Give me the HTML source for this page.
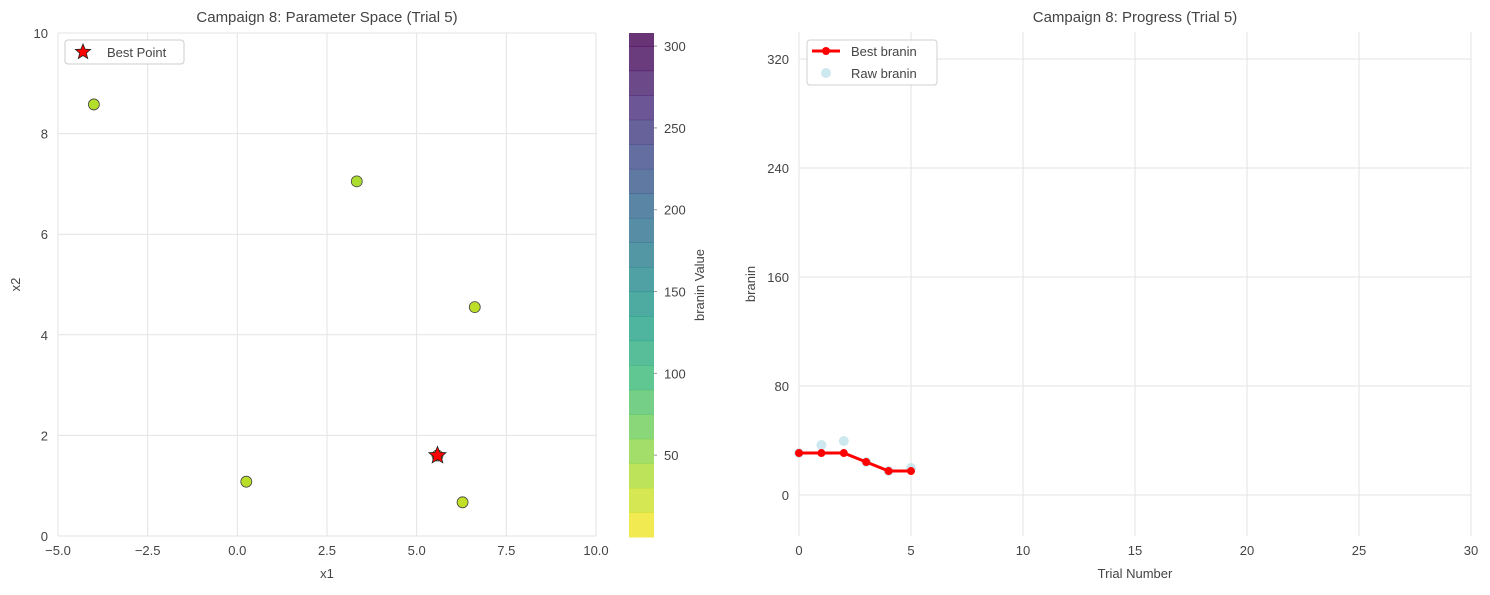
<!DOCTYPE html>
<html><head><meta charset="utf-8"><style>
body{margin:0;background:#fff;font-family:"Liberation Sans","DejaVu Sans",sans-serif}
svg text{font-family:"Liberation Sans","DejaVu Sans",sans-serif;fill:#444}
</style></head><body>
<svg id="c" width="1490" height="590" xmlns="http://www.w3.org/2000/svg"></svg>
<script>
// Left plot data
const pointsX1 = [-4.0, 3.33, 6.62, 0.25, 6.28, 5.58];
const pointsX2 = [8.58, 7.05, 4.55, 1.08, 0.67, 1.60];
const pointsVal = [35, 38, 30, 32, 28, 18];
const bestX1 = 5.58, bestX2 = 1.60;
const xTicks = [-5.0, -2.5, 0.0, 2.5, 5.0, 7.5, 10.0];
const xTickLabels = ["\u22125.0","\u22122.5","0.0","2.5","5.0","7.5","10.0"];
const yTicks = [0, 2, 4, 6, 8, 10];
const cbTicks = [50, 100, 150, 200, 250, 300];
// Right plot data
const trials = [0, 1, 2, 3, 4, 5];
const rawVals = [30.8, 36.7, 39.6, 24.2, 17.6, 19.8];
const bestVals = [30.8, 30.8, 30.8, 24.2, 17.6, 17.6];
const rxTicks = [0, 5, 10, 15, 20, 25, 30];
const ryTicks = [0, 80, 160, 240, 320];

const NS = "http://www.w3.org/2000/svg";
const svg = document.getElementById('c');
function el(tag, attrs, parent) {
  const e = document.createElementNS(NS, tag);
  for (const k in attrs) e.setAttribute(k, attrs[k]);
  (parent || svg).appendChild(e);
  return e;
}
function txt(s, attrs) { const t = el('text', attrs); t.textContent = s; return t; }

const viridis = ["#fde725","#b5de2b","#6ece58","#35b779","#1f9e89","#26828e","#31688e","#3e4989","#482878","#440154"];
function vcol(t) {
  t = Math.max(0, Math.min(1, t)) * (viridis.length - 1);
  const i = Math.min(viridis.length - 2, Math.floor(t)), f = t - i;
  const a = viridis[i], b = viridis[i + 1];
  const c = [1,3,5].map(j => Math.round(parseInt(a.substr(j,2),16)*(1-f) + parseInt(b.substr(j,2),16)*f));
  return `rgb(${c[0]},${c[1]},${c[2]})`;
}

// ---------- Left plot ----------
const L = {x0:58, x1:596, y0:536, y1:33};
const lx = v => L.x0 + (v - (-5)) / 15 * (L.x1 - L.x0);
const ly = v => L.y0 - v / 10 * (L.y0 - L.y1);
let t;
t = txt("Campaign 8: Parameter Space (Trial 5)", {x:(L.x0+L.x1)/2, y:22, 'text-anchor':'middle', 'font-size':15});
 
xTicks.forEach((v, i) => {
  const g = el('line', {x1:lx(v), x2:lx(v), y1:L.y1, y2:L.y0, stroke:'#e3e3e3', 'stroke-width':1});
   
  const l = txt(xTickLabels[i], {x:lx(v), y:555, 'text-anchor':'middle', 'font-size':13});
   
});
yTicks.forEach(v => {
  const g = el('line', {x1:L.x0, x2:L.x1, y1:ly(v), y2:ly(v), stroke:'#e3e3e3', 'stroke-width':1});
   
  const l = txt(String(v), {x:L.x0-10, y:ly(v)+5, 'text-anchor':'end', 'font-size':13});
   
});
t = txt("x1", {x:(L.x0+L.x1)/2, y:578, 'text-anchor':'middle', 'font-size':13});
 
t = txt("x2", {x:0, y:0, 'text-anchor':'middle', 'font-size':13, transform:`translate(20,${(L.y0+L.y1)/2}) rotate(-90)`});
 
pointsX1.forEach((x, i) => {
  const c = el('circle', {cx:lx(x), cy:ly(pointsX2[i]), r:5.5, fill:vcol(pointsVal[i]/308), stroke:'#444', 'stroke-width':0.8});
   
});
function star(cx, cy, R, r) {
  let p = [];
  for (let k = 0; k < 10; k++) { const a = -Math.PI/2 + k*Math.PI/5, rr = k%2 ? r : R; p.push((cx+rr*Math.cos(a)).toFixed(1)+','+(cy+rr*Math.sin(a)).toFixed(1)); }
  return p.join(' ');
}
const bs = el('polygon', {points:star(lx(bestX1), ly(bestX2), 9, 4), fill:'#ff0000', stroke:'#222', 'stroke-width':0.8});
 
// legend
const lg = el('rect', {x:65, y:40, width:119, height:24, rx:3, fill:'#fff', stroke:'#ccc'});
 
el('polygon', {points:star(83, 52, 8, 3.5), fill:'#ff0000', stroke:'#222', 'stroke-width':0.8});
t = txt("Best Point", {x:107, y:57, 'font-size':13});
 

// colorbar
const CB = {x:629, w:25, y0:537, y1:33, max:308};
const cy = v => CB.y0 - v / CB.max * (CB.y0 - CB.y1);
for (let v = 0; v < 300; v += 15) {
  const r = el('rect', {x:CB.x, y:cy(Math.min(v+15, CB.max)), width:CB.w, height:cy(v)-cy(Math.min(v+15,CB.max))+0.5, fill:vcol((v+7.5)/300), opacity:0.8});
   
}
el('rect', {x:CB.x, y:CB.y1, width:CB.w, height:cy(300)-CB.y1+0.5, fill:vcol(1), opacity:0.8});
cbTicks.forEach(v => {
  el('line', {x1:CB.x+CB.w, x2:CB.x+CB.w+3, y1:cy(v), y2:cy(v), stroke:'#999'});
  const l = txt(String(v), {x:CB.x+CB.w+10, y:cy(v)+5, 'font-size':13});
   
});
t = txt("branin Value", {x:0, y:0, 'text-anchor':'middle', 'font-size':13, transform:`translate(704,285) rotate(-90)`});
 

// ---------- Right plot ----------
const R = {x0:799, x1:1471, y0:536, y1:32};
const rx = v => R.x0 + v / 30 * (R.x1 - R.x0);
const ry = v => 495 - v * 1.3625;
t = txt("Campaign 8: Progress (Trial 5)", {x:(R.x0+R.x1)/2, y:22, 'text-anchor':'middle', 'font-size':15});
 
rxTicks.forEach(v => {
  const g = el('line', {x1:rx(v), x2:rx(v), y1:R.y1, y2:R.y0, stroke:'#e3e3e3'});
   
  const l = txt(String(v), {x:rx(v), y:555, 'text-anchor':'middle', 'font-size':13});
   
});
ryTicks.forEach(v => {
  const g = el('line', {x1:R.x0, x2:R.x1, y1:ry(v), y2:ry(v), stroke:'#e3e3e3'});
   
  const l = txt(String(v), {x:R.x0-10, y:ry(v)+5, 'text-anchor':'end', 'font-size':13});
   
});
t = txt("Trial Number", {x:(R.x0+R.x1)/2, y:578, 'text-anchor':'middle', 'font-size':13});
 
t = txt("branin", {x:0, y:0, 'text-anchor':'middle', 'font-size':13, transform:`translate(755,284) rotate(-90)`});
 
trials.forEach((x, i) => {
  const c = el('circle', {cx:rx(x), cy:ry(rawVals[i]), r:5, fill:'#add8e6', opacity:0.6});
   
});
const pl = el('polyline', {points:trials.map((x,i)=>rx(x)+','+ry(bestVals[i])).join(' '), fill:'none', stroke:'#ff0000', 'stroke-width':3});
 
trials.forEach((x, i) => {
  const c = el('circle', {cx:rx(x), cy:ry(bestVals[i]), r:4, fill:'#ff0000'});
   
});
const rl = el('rect', {x:807, y:40, width:130, height:45, rx:3, fill:'#fff', stroke:'#ccc', opacity:0.9});
 
el('line', {x1:812, x2:840, y1:51, y2:51, stroke:'#ff0000', 'stroke-width':3});
el('circle', {cx:826, cy:51, r:4, fill:'#ff0000'});
t = txt("Best branin", {x:851, y:56, 'font-size':13});
 
el('circle', {cx:826, cy:73, r:5, fill:'#add8e6', opacity:0.6});
t = txt("Raw branin", {x:851, y:78, 'font-size':13});
 
</script>
</body></html>
